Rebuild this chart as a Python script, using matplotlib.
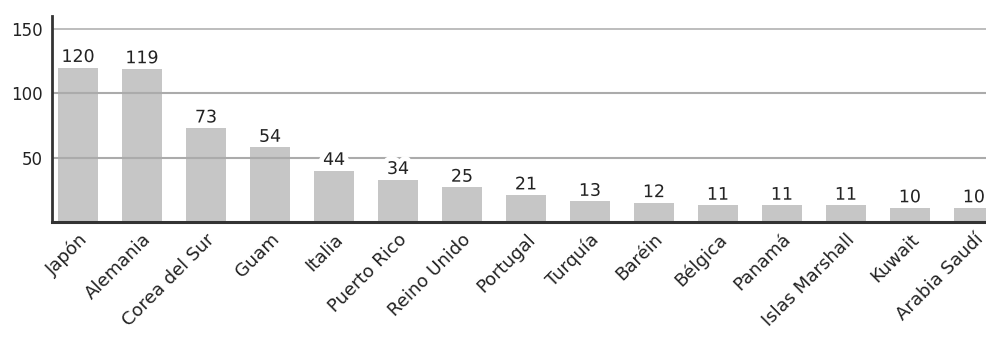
import matplotlib
matplotlib.use("Agg")
import matplotlib.pyplot as plt
import matplotlib.patheffects as pe
import numpy as np

# countries and values (labels); bar heights as drawn in the picture
countries = ["Japón", "Alemania", "Corea del Sur", "Guam", "Italia", "Puerto Rico",
             "Reino Unido", "Portugal", "Turquía", "Baréin", "Bélgica", "Panamá",
             "Islas Marshall", "Kuwait", "Arabia Saudí"]
values = [120, 119, 73, 54, 44, 34, 25, 21, 13, 12, 11, 11, 11, 10, 10]
heights = [120, 119, 73, 58, 40, 33, 27, 21, 16, 15, 13, 13, 13, 11, 11]
yticks = [50, 100, 150]

bar_color = "#c6c6c6"
grid_color = "#ababab"
axis_color = "#333333"

fig = plt.figure(figsize=(9.86, 3.52), dpi=100)
ax = fig.add_axes([52/986, 1-222/352, 1-52/986, (222-16)/352])

x = np.arange(len(countries))
ax.bar(x, heights, width=0.62, color=bar_color, zorder=1)

for yv in yticks:
    ax.axhline(yv, color=grid_color, lw=1.5 if yv < 150 else 1.1, zorder=2)

# white halo around the numbers breaks the grid line (as with "44")
halo = [pe.withStroke(linewidth=7, foreground="white")]
for xi, h, v in zip(x, heights, values):
    ax.annotate(str(v), (xi, h), xytext=(0, 4), textcoords="offset points",
                ha="center", va="baseline", fontsize=12.5, color="#222222",
                zorder=4, path_effects=halo)

ax.set_xlim(-0.406, 14.19)
ax.set_ylim(0, 160)
ax.set_yticks(yticks)
ax.set_yticklabels([str(t) for t in yticks], fontsize=12, color="#222222")
ax.tick_params(axis="y", length=0, pad=7)
ax.set_xticks(x)
ax.set_xticklabels(countries, rotation=45, ha="right", rotation_mode="anchor",
                   fontsize=13, color="#222222")
ax.tick_params(axis="x", length=0, pad=6)

for s in ["top", "right"]:
    ax.spines[s].set_visible(False)
ax.spines["left"].set_color(axis_color)
ax.spines["left"].set_linewidth(2)
ax.spines["bottom"].set_color(axis_color)
ax.spines["bottom"].set_linewidth(2.2)
ax.spines["left"].set_zorder(5)
ax.spines["bottom"].set_zorder(5)

fig.savefig("out.png", dpi=100)
